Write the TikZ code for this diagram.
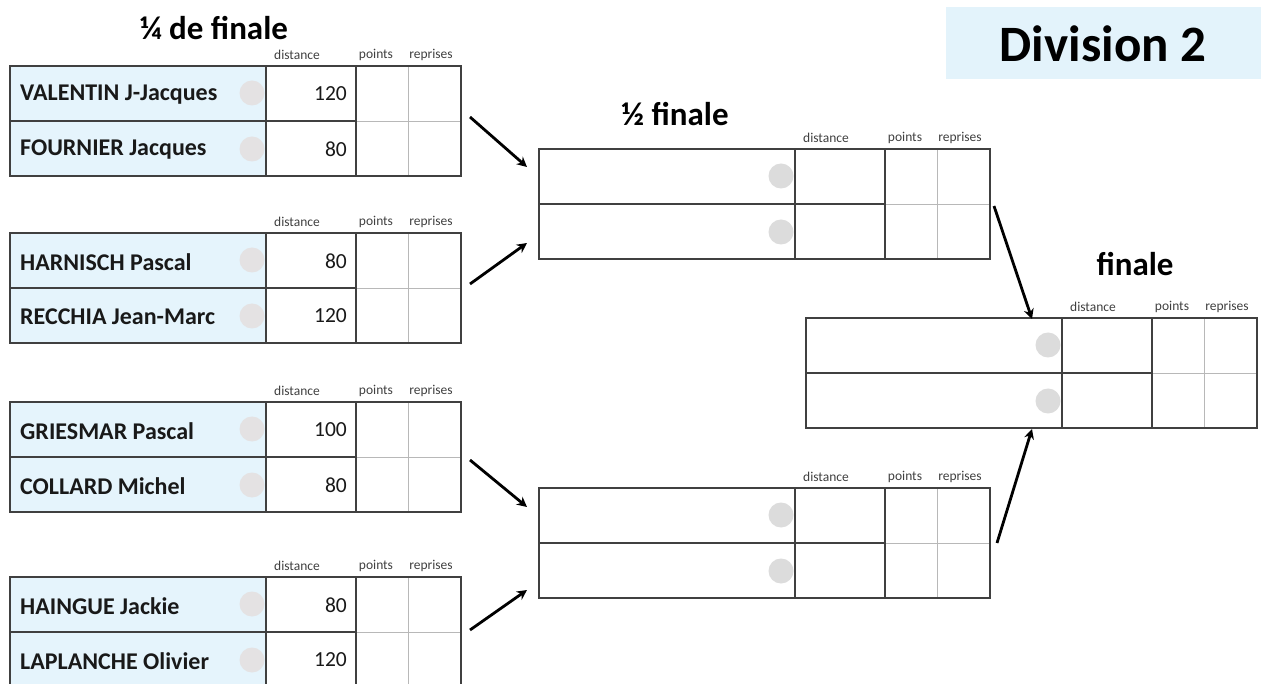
\documentclass[tikz,border=0pt]{standalone}
\usepackage{fontspec}
\setmainfont{Carlito}
\usetikzlibrary{arrows.meta}
\definecolor{namebg}{HTML}{E5F4FC}
\definecolor{divbg}{HTML}{E3F3FB}
\definecolor{darkline}{HTML}{404040}
\definecolor{lightline}{HTML}{B8B8B8}
\definecolor{dotq}{HTML}{E4E2E3}
\definecolor{dots}{HTML}{DCDCDC}
\tikzset{
  darkrule/.style={draw=darkline,line width=1.2pt},
  lightrule/.style={draw=lightline,line width=0.6pt},
  hdr/.style={font=\fontsize{13.5}{15}\selectfont,text=black!75,inner sep=0pt},
  pname/.style={font=\fontsize{24}{27}\selectfont\bfseries,anchor=west,inner sep=0pt,text=black!90},
  pdist/.style={font=\fontsize{21.5}{24}\selectfont,anchor=east,inner sep=0pt,text=black!90},
  ttl/.style={font=\fontsize{33}{38}\selectfont\bfseries,inner sep=0pt},
  arr/.style={-{Stealth[length=10pt,width=10pt]},line width=2.8pt},
  tblarea/.style={inner sep=0pt,minimum width=451pt,minimum height=110pt,anchor=north west}
}
% #1 id, #2 x, #3 y top, #4 name-column fill, #5 dot colour
\newcommand\drawtbl[5]{%
  \begin{scope}[shift={(#2,#3)}]
    \node[tblarea] (#1) at (0,0) {};
    \fill[#4] (0,0) rectangle (256,110);
    \fill[#5] (242,27) circle (12.5);
    \fill[#5] (242,83) circle (12.5);
    \draw[lightrule] (346,55) -- (451,55);
    \draw[lightrule] (398,0) -- (398,110);
    \draw[darkrule] (0,55) -- (346,55);
    \draw[darkrule] (256,0) -- (256,110);
    \draw[darkrule] (346,0) -- (346,110);
    \draw[darkrule] (0,0) rectangle (451,110);
    \node[hdr] (#1h1) at (287,-11) {distance};
    \node[hdr] (#1h2) at (366,-11) {points};
    \node[hdr] (#1h3) at (421,-11) {reprises};
  \end{scope}}
\begin{document}
\begin{tikzpicture}[x=1pt,y=-1pt]
\useasboundingbox (0,0) rectangle (1261,684);
\clip (0,0) rectangle (1261,684);
\fill[white] (0,0) rectangle (1261,684);
% titles
\node[ttl] (tq) at (214,28) {¼ de finale};
\node[ttl] (ts) at (675,114) {½ finale};
\node[ttl] (tf) at (1135,264) {finale};
\fill[divbg] (946,7) rectangle (1261,79);
\node[font=\fontsize{51}{56}\selectfont\bfseries,inner sep=0pt] (div) at (1103,44) {Division 2};
% quarter-final tables
\drawtbl{q1}{10}{66}{namebg}{dotq}
\drawtbl{q2}{10}{233}{namebg}{dotq}
\drawtbl{q3}{10}{402}{namebg}{dotq}
\drawtbl{q4}{10}{577}{namebg}{dotq}
\begin{scope}[shift={(10,66)}]
  \node[pname] (q1a) at (10,29) {VALENTIN J-Jacques};
  \node[pdist] (q1ad) at (337,28) {120};
  \node[pname] (q1b) at (10,84) {FOURNIER Jacques};
  \node[pdist] (q1bd) at (337,83) {80};
\end{scope}
\begin{scope}[shift={(10,233)}]
  \node[pname] (q2a) at (10,29) {HARNISCH Pascal};
  \node[pdist] (q2ad) at (337,28) {80};
  \node[pname] (q2b) at (10,84) {RECCHIA Jean-Marc};
  \node[pdist] (q2bd) at (337,83) {120};
\end{scope}
\begin{scope}[shift={(10,402)}]
  \node[pname] (q3a) at (10,29) {GRIESMAR Pascal};
  \node[pdist] (q3ad) at (337,28) {100};
  \node[pname] (q3b) at (10,84) {COLLARD Michel};
  \node[pdist] (q3bd) at (337,83) {80};
\end{scope}
\begin{scope}[shift={(10,577)}]
  \node[pname] (q4a) at (10,29) {HAINGUE Jackie};
  \node[pdist] (q4ad) at (337,28) {80};
  \node[pname] (q4b) at (10,84) {LAPLANCHE Olivier};
  \node[pdist] (q4bd) at (337,83) {120};
\end{scope}
% semi-final and final tables
\drawtbl{s1}{539}{149}{white}{dots}
\drawtbl{s2}{539}{488}{white}{dots}
\drawtbl{f}{806}{318}{white}{dots}
% arrows
\coordinate (a1s) at (470,117); \coordinate (a1e) at (527,167);
\coordinate (a2s) at (470,284); \coordinate (a2e) at (527,243);
\coordinate (a3s) at (470,460); \coordinate (a3e) at (527,507);
\coordinate (a4s) at (470,630); \coordinate (a4e) at (527,590);
\coordinate (a5s) at (994,206); \coordinate (a5e) at (1032,319);
\coordinate (a6s) at (997,543); \coordinate (a6e) at (1032,429);
\draw[arr] (a1s) -- (a1e);
\draw[arr] (a2s) -- (a2e);
\draw[arr] (a3s) -- (a3e);
\draw[arr] (a4s) -- (a4e);
\draw[arr] (a5s) -- (a5e);
\draw[arr] (a6s) -- (a6e);
\end{tikzpicture}
\end{document}
